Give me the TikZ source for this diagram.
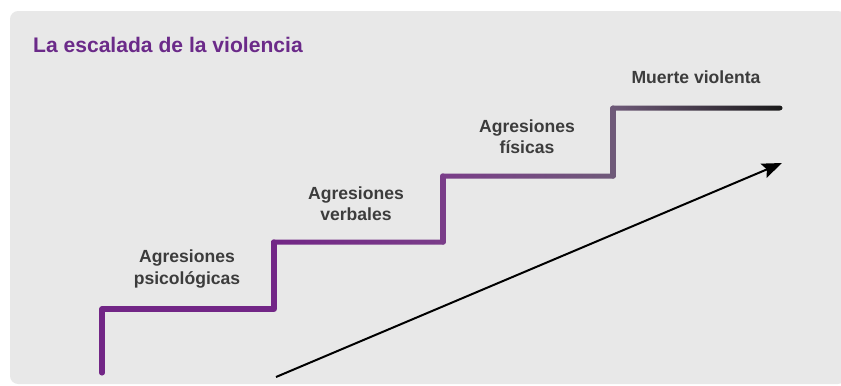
\documentclass[tikz,border=0pt]{standalone}
\usepackage{fontspec}
\setmainfont{Liberation Sans}
\usetikzlibrary{arrows.meta}

\definecolor{panelgray}{HTML}{E8E8E8}
\definecolor{titlepurple}{HTML}{6B2A89}
\definecolor{labelgray}{HTML}{3C3C3C}
\definecolor{stairA}{HTML}{722686}
\definecolor{stairB}{HTML}{7A3D89}
\definecolor{stairC}{HTML}{6F5A79}
\definecolor{stairD}{HTML}{1A1A1A}

\begin{document}
\begin{tikzpicture}[x=0.03cm, y=-0.03cm,
    stepname/.style={font=\bfseries\fontsize{15}{18}\selectfont, text=labelgray, align=center},
    stair/.style={line width=4.3pt, line cap=round, line join=round}]
  \useasboundingbox (0,0) rectangle (841,385);
  \clip (0,0) rectangle (841,385);
  \fill[white] (0,0) rectangle (841,385);
  \fill[panelgray, rounded corners=7pt] (10,11) rectangle (846,384);

  \node[anchor=west, font=\bfseries\fontsize{18}{22}\selectfont, text=titlepurple] (title) at (29,45) {La escalada de la violencia};

  % the stairs
  \draw[stair, stairA] (102,373) -- (102,309) -- (274,309) -- (274,242);
  \shade[left color=stairA, right color=stairB, rounded corners=1.2pt] (271.5,239.5) rectangle (445.5,244.5);
  \draw[stair, stairB] (443,242) -- (443,176);
  \shade[left color=stairB, right color=stairC, rounded corners=1.2pt] (440.5,173.5) rectangle (615.5,178.5);
  \draw[stair, stairC] (613,176) -- (613,108);
  \shade[left color=stairC, right color=stairD, rounded corners=2.4pt] (610.5,105.5) rectangle (782.5,110.5);

  \node[stepname] (psico) at (187,269) {Agresiones\\psicológicas};
  \node[stepname] (verbal) at (356,204) {Agresiones\\verbales};
  \node[stepname] (fisica) at (527,137) {Agresiones\\físicas};
  \node[stepname] (muerte) at (696,77) {Muerte violenta};

  \coordinate (low) at (276,377);
  \coordinate (high) at (782,163);
  \draw[line width=1.7pt, -{Stealth[length=17pt, width=13pt, inset=3pt]}] (low) -- (high);
\end{tikzpicture}
\end{document}
